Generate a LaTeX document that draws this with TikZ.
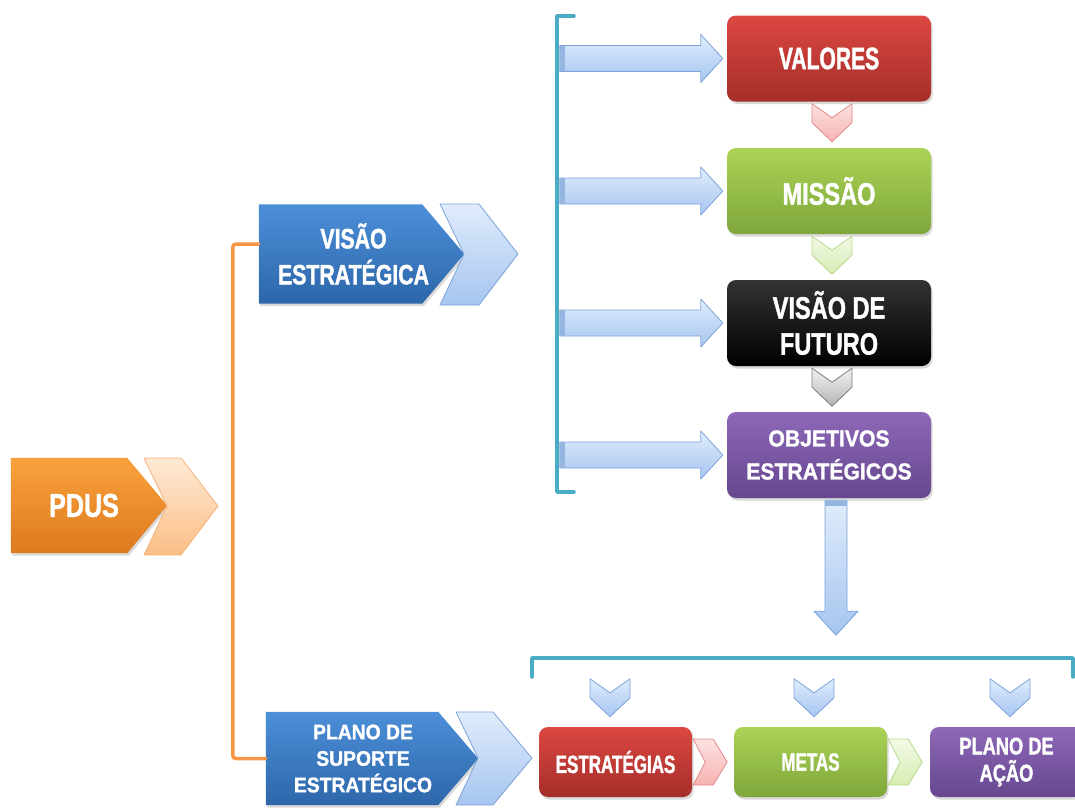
\documentclass[tikz,border=0pt]{standalone}
\usepackage{fontspec}
\setmainfont[FakeStretch=0.76,BoldFeatures={FakeBold=1.3}]{Liberation Sans}
\newfontfamily\narrowf[FakeStretch=0.68,BoldFeatures={FakeBold=1.3}]{Liberation Sans}
\newfontfamily\widef[FakeStretch=0.92,BoldFeatures={FakeBold=1.3}]{Liberation Sans}
\usetikzlibrary{calc,backgrounds,shadows}
\newcommand{\myfs}[2]{\fontsize{#1}{#2}\selectfont}
\definecolor{pdusT}{HTML}{F9A13C}
\definecolor{pdusB}{HTML}{DD7A1E}
\definecolor{pchT}{HTML}{FEEAD6}
\definecolor{pchB}{HTML}{FBBE86}
\definecolor{pchD}{HTML}{F7B27A}
\definecolor{blueT}{HTML}{4C8FD8}
\definecolor{blueB}{HTML}{2D66AA}
\definecolor{lbT}{HTML}{E0ECFC}
\definecolor{lbB}{HTML}{A6C5EF}
\definecolor{lbD}{HTML}{7BA3D9}
\definecolor{tealc}{HTML}{4BACC6}
\definecolor{redT}{HTML}{DC4741}
\definecolor{redB}{HTML}{A42E2A}
\definecolor{grnT}{HTML}{ABD456}
\definecolor{grnB}{HTML}{7FA63B}
\definecolor{purT}{HTML}{8D68B8}
\definecolor{purB}{HTML}{66478F}
\definecolor{pinkT}{HTML}{FDE2E2}
\definecolor{pinkB}{HTML}{F7B2B2}
\definecolor{pinkD}{HTML}{E28A8A}
\definecolor{lgT}{HTML}{F3FAE6}
\definecolor{lgB}{HTML}{D6ECB2}
\definecolor{lgD}{HTML}{B5D98A}
\definecolor{grayT}{HTML}{F2F2F2}
\definecolor{grayB}{HTML}{B3B3B3}
\definecolor{grayD}{HTML}{7F7F7F}
\definecolor{orng}{HTML}{F79646}
\begin{document}
\begin{tikzpicture}[x=1pt,y=-1pt,
  lbl/.style={text=white,align=center,inner sep=0pt},
  shd/.style={drop shadow={shadow xshift=1.5pt,shadow yshift=-2.5pt,opacity=0.3}},
  rbox/.style={lbl,rounded corners=9pt,minimum width=204pt,minimum height=86pt,shd},
  sbox/.style={lbl,rounded corners=9pt,minimum width=153pt,minimum height=70pt,shd},
  red/.style={top color=redT,bottom color=redB},
  grn/.style={top color=grnT,bottom color=grnB},
  pur/.style={top color=purT,bottom color=purB},
  blk/.style={top color=black!80,bottom color=black},
  barrow/.style={top color=lbT,bottom color=lbB,draw=lbD,line width=0.8pt,line join=round},
  bchev/.style={top color=lbT,bottom color=lbB,draw=lbD,line width=0.8pt,line join=round},
  pinkchev/.style={top color=pinkT,bottom color=pinkB,draw=pinkD,line width=0.8pt,line join=round},
  lgchev/.style={top color=lgT,bottom color=lgB,draw=lgD,line width=0.8pt,line join=round},
  graychev/.style={top color=grayT,bottom color=grayB,draw=grayD,line width=0.8pt,line join=round},
  tealline/.style={draw=tealc,line width=3.5pt,line cap=round,line join=round},
  oline/.style={draw=orng,line width=3.5pt,line cap=round,rounded corners=3pt},
  dchev/.pic={\path[pic actions] (-20,0) -- (0,14) -- (20,0) -- (20,19) -- (0,38) -- (-20,19) -- cycle;},
  rchev/.pic={\path[pic actions] (0,-23) -- (20,-23) -- (34,0) -- (20,23) -- (0,23) -- (12,0) -- cycle;}
]
\useasboundingbox (0,0) rectangle (1075,807);

% ---- pentagon nodes ----
\node[lbl,minimum width=156pt,minimum height=95pt,font=\bfseries\myfs{33}{36}] (pdus) at (89,505.5) {\hspace*{-10pt}PDUS};
\node[lbl,minimum width=205pt,minimum height=99pt,font=\bfseries\myfs{28}{36}] (vis) at (361.5,254) {\hspace*{-16pt}VISÃO\\\hspace*{-16pt}ESTRATÉGICA};
\node[lbl,minimum width=212pt,minimum height=93pt,font=\widef\bfseries\myfs{21}{26.5}] (sup) at (372,758.5) {\hspace*{-18pt}PLANO DE\\\hspace*{-18pt}SUPORTE\\\hspace*{-18pt}ESTRATÉGICO};
\begin{scope}[on background layer]
  \path[top color=pdusT,bottom color=pdusB,shd] (pdus.north west) -- ([xshift=-40pt]pdus.north east) -- (pdus.east) -- ([xshift=-40pt]pdus.south east) -- (pdus.south west) -- cycle;
  \path[top color=blueT,bottom color=blueB,shd] (vis.north west) -- ([xshift=-42pt]vis.north east) -- (vis.east) -- ([xshift=-42pt]vis.south east) -- (vis.south west) -- cycle;
  \path[top color=blueT,bottom color=blueB,shd] (sup.north west) -- ([xshift=-40pt]sup.north east) -- (sup.east) -- ([xshift=-40pt]sup.south east) -- (sup.south west) -- cycle;
\end{scope}
% light chevrons after pentagons
\path[top color=pchT,bottom color=pchB,draw=pchD,line width=0.8pt] (144,458) -- (181,458) -- (218,506) -- (181,555) -- (144,555) -- (167,506) -- cycle;
\path[bchev] (440,204) -- (479,204) -- (518,254) -- (479,305) -- (440,305) -- (464,254) -- cycle;
\path[bchev] (456,712) -- (493,712) -- (532,758) -- (493,805) -- (456,805) -- (478,758) -- cycle;

% ---- orange connector ----
\draw[oline] ([yshift=10pt]vis.west) -- ++(-26,0) |- (sup.west);

% ---- right column boxes ----
\node[rbox,red,font=\narrowf\bfseries\myfs{31}{36}] (val) at (829,58.5) {VALORES};
\node[rbox,grn,font=\bfseries\myfs{31}{36}] (mis) at (829,191) {MISSÃO};
\node[rbox,blk,font=\bfseries\myfs{31}{36}] (fut) at (829,323) {VISÃO DE\\FUTURO};
\node[rbox,pur,font=\widef\bfseries\myfs{23}{33}] (obj) at (829,455) {OBJETIVOS\\ESTRATÉGICOS};

% teal bracket
\draw[tealline] (574,16) -- (557,16) -- (557,492) -- (574,492);

% block arrows to boxes
\foreach \b in {val,mis,fut,obj}{
  \path[barrow] ($(\b.west)+(-167,-13)$) -- ++(141,0) -- ++(0,-11) -- ++(22,24) -- ++(-22,24) -- ++(0,-11) -- ++(-141,0) -- cycle;
  \fill[lbD!80] ($(\b.west)+(-166.6,-12.6)$) rectangle ++(5,25.2);
}

% small down chevrons between boxes
\pic[pinkchev] at ([xshift=3pt,yshift=-2pt]val.south) {dchev};
\pic[lgchev] at ([xshift=3pt,yshift=-2pt]mis.south) {dchev};
\pic[graychev] at ([xshift=3pt,yshift=-2pt]fut.south) {dchev};

% big down arrow
\path[barrow] ($(obj.south)+(-4,2)$) -- ++(22,0) -- ++(0,111) -- ++(11,0) -- ++(-22,24) -- ++(-22,-24) -- ++(11,0) -- cycle;
\fill[lbD!80] ($(obj.south)+(-3.6,2.4)$) rectangle ++(21.2,5);

% ---- bottom row ----
\node[sbox,red,font=\narrowf\bfseries\myfs{25}{30}] (estr) at (615.5,762) {ESTRATÉGIAS};
\node[sbox,grn,font=\narrowf\bfseries\myfs{25}{30}] (metas) at (810.5,762) {METAS};
\node[sbox,pur,font=\bfseries\myfs{24}{27}] (acao) at (1006.5,762) {PLANO DE\\AÇÃO};

\draw[tealline] (532,677) -- (532,658) -- (1073,658) -- (1073,677);

\pic[bchev] at ([xshift=-5.5pt,yshift=48pt]estr.north) {dchev};
\pic[bchev] at ([xshift=3.5pt,yshift=48pt]metas.north) {dchev};
\pic[bchev] at ([xshift=3.5pt,yshift=48pt]acao.north) {dchev};

\pic[pinkchev] at ([xshift=1pt]estr.east) {rchev};
\pic[lgchev] at ([xshift=1pt]metas.east) {rchev};
\end{tikzpicture}
\end{document}
